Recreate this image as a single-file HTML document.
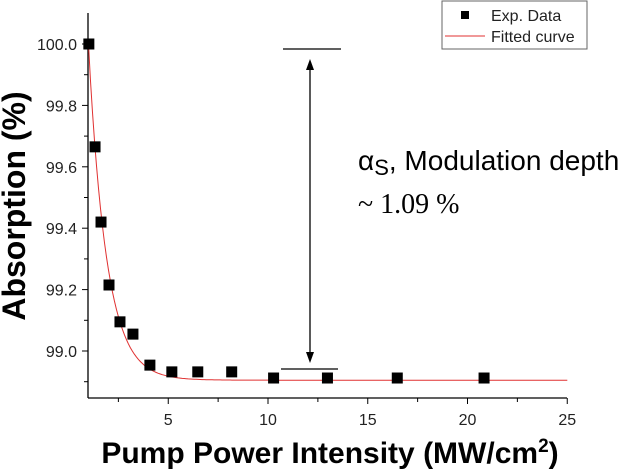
<!DOCTYPE html>
<html><head><meta charset="utf-8"><style>
body{margin:0;background:#fff}
svg{display:block;font-family:"Liberation Sans",Arial,sans-serif}
</style></head><body>
<svg id="c" width="629" height="472" viewBox="0 0 629 472"></svg>
<script>
const xData=[1.02,1.33,1.63,2.03,2.58,3.23,4.08,5.18,6.48,8.18,10.28,12.98,16.48,20.83];
const yData=[100.0,99.665,99.42,99.215,99.095,99.055,98.954,98.932,98.932,98.932,98.912,98.912,98.912,98.912];
const fitParams=[98.905,1.095,0.9]; // y0, A, t
const xTicks=[5,10,15,20,25];
const yTicks=[99.0,99.2,99.4,99.6,99.8,100.0];
const NS="http://www.w3.org/2000/svg";
const svg=document.getElementById('c');
const X=v=>68.5+v*19.95, Y=v=>44+(100-v)*307;
function el(t,a,p){const e=document.createElementNS(NS,t);for(const k in a)e.setAttribute(k,a[k]);(p||svg).appendChild(e);return e;}
let ax=el('line',{x1:88,y1:13,x2:88,y2:398,stroke:'#000','stroke-width':1.3});


let bx=el('line',{x1:88,y1:398,x2:567,y2:398,stroke:'#000','stroke-width':1.3});


for(const t of xTicks){
  el('line',{x1:X(t),y1:398,x2:X(t),y2:404,stroke:'#000'});
  el('line',{x1:X(t-2.5),y1:398,x2:X(t-2.5),y2:402,stroke:'#000'});
  const tx=el('text',{x:X(t),y:425,'text-anchor':'middle','font-size':16,fill:'#222'});tx.textContent=t;
  
  
}
for(const t of yTicks){
  el('line',{x1:82,y1:Y(t),x2:88,y2:Y(t),stroke:'#000'});
  el('line',{x1:84,y1:Y(t-0.1),x2:88,y2:Y(t-0.1),stroke:'#000'});
  const ty=el('text',{x:77,y:Y(t)+6,'text-anchor':'end','font-size':16,fill:'#222'});ty.textContent=t.toFixed(1);
  
  
}
let d='';for(let i=0;i<=240;i++){const x=1+i*0.1;const y=fitParams[0]+fitParams[1]*Math.exp(-(x-1)/fitParams[2]);d+=(i?'L':'M')+X(x).toFixed(1)+','+Y(y).toFixed(1);}
const fc=el('path',{d:d,fill:'none',stroke:'#e03030','stroke-width':1});


xData.forEach((x,i)=>{const r=el('rect',{x:X(x)-5.5,y:Y(yData[i])-5.5,width:11,height:11,fill:'#000'});

});
svg.insertAdjacentHTML('beforeend',`
<g>
<line x1="283" y1="49" x2="341" y2="49" stroke="#000" stroke-width="1.3"/>
<line x1="281" y1="369" x2="338" y2="369" stroke="#000" stroke-width="1.3"/>
<line x1="310" y1="66" x2="310" y2="356" stroke="#000" stroke-width="1.3"/>
<polygon points="310,59 306,70 314,70" fill="#000"/>
<polygon points="310,363 306,352 314,352" fill="#000"/>
<text x="358" y="170" font-size="28" fill="#000">α<tspan font-size="22" dy="5">S</tspan><tspan dy="-5">, Modulation depth</tspan></text>
<text x="358" y="213" font-size="28" font-family="Liberation Serif,serif" fill="#000">~ 1.09 %</text>
</g>
<g>
<rect x="442" y="1" width="145" height="48" fill="#fff" stroke="#666" stroke-width="1"/>
<rect x="461" y="11" width="8" height="8" fill="#000"/>
<text x="491" y="21" font-size="16" fill="#222">Exp. Data</text>
<line x1="445" y1="36" x2="485" y2="36" stroke="#e03030"/>
<text x="491" y="42" font-size="16" fill="#222">Fitted curve</text>
</g>
<text x="330" y="463" text-anchor="middle" font-size="30" font-weight="bold">Pump Power Intensity (MW/cm<tspan font-size="19" dy="-11">2</tspan><tspan dy="11">)</tspan></text>
<text transform="translate(25,206) rotate(-90)" text-anchor="middle" font-size="32" font-weight="bold">Absorption (%)</text>
`);
</script>
</body></html>
